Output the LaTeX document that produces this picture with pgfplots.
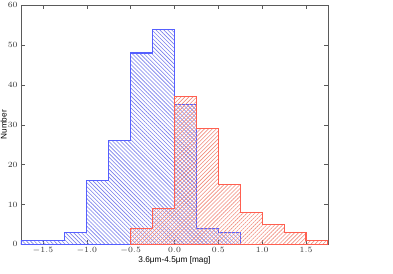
\documentclass[border=0pt]{standalone}
\usepackage{pgfplots}
\pgfplotsset{compat=1.18}
\usepackage{fontspec}
\setmainfont{Liberation Sans}
\usetikzlibrary{patterns.meta}
\definecolor{bedge}{RGB}{85,95,255}
\definecolor{bhatch}{RGB}{120,125,235}
\definecolor{redge}{RGB}{255,95,80}
\definecolor{rhatch}{RGB}{240,140,125}
\definecolor{spine}{RGB}{90,90,90}
\begin{document}
\begin{tikzpicture}
\path[use as bounding box] (-15.75pt,-22.3pt) rectangle (279pt,183.2pt);
\begin{axis}[
  at={(0pt,0pt)}, anchor=south west,
  width=230.25pt, height=179.25pt, scale only axis,
  xmin=-1.75, xmax=1.75, ymin=0, ymax=60,
  xtick={-1.5,-1,-0.5,0,0.5,1,1.5},
  ytick={0,10,20,30,40,50,60},
  minor tick num=0,
  tick align=inside,
  major tick length=3pt,
  xtick pos=both, ytick pos=both,
  axis line style={spine, line width=0.6pt},
  tick style={spine, line width=0.4pt},
  xticklabel style={/pgf/number format/fixed, /pgf/number format/fixed zerofill, /pgf/number format/precision=1, yshift=1pt},
  ticklabel style={font=\fontsize{6}{7}\selectfont, text=black!80},
  yticklabel style={xshift=1pt},
  xlabel={3.6μm-4.5μm [mag]},
  ylabel={Number},
  label style={font=\fontsize{6.2}{7}\selectfont},
  xlabel style={at={(axis description cs:0.5,0)}, anchor=north, yshift=-5.5pt},
  ylabel style={at={(axis description cs:0,0.5)}, anchor=south, inner sep=0pt, yshift=10.6pt},
  clip=true,
]
\addplot[const plot, draw=bedge, line width=0.9pt,
  pattern={Lines[angle=-45,distance=2.1pt,line width=0.45pt]}, pattern color=bhatch]
  coordinates {(-1.75,0) (-1.75,1) (-1.5,1) (-1.25,3) (-1.0,16) (-0.75,26) (-0.5,48) (-0.25,54) (0,35) (0.25,4) (0.5,3) (0.75,3) (0.75,0)} \closedcycle;
\addplot[const plot, draw=redge, line width=0.9pt,
  pattern={Lines[angle=45,distance=2.1pt,line width=0.45pt]}, pattern color=rhatch]
  coordinates {(-0.5,0) (-0.5,4) (-0.25,9) (0,37) (0.25,29) (0.5,15) (0.75,8) (1.0,5) (1.25,3) (1.5,1) (1.75,1) (1.75,0)} \closedcycle;
\end{axis}
\end{tikzpicture}
\end{document}
